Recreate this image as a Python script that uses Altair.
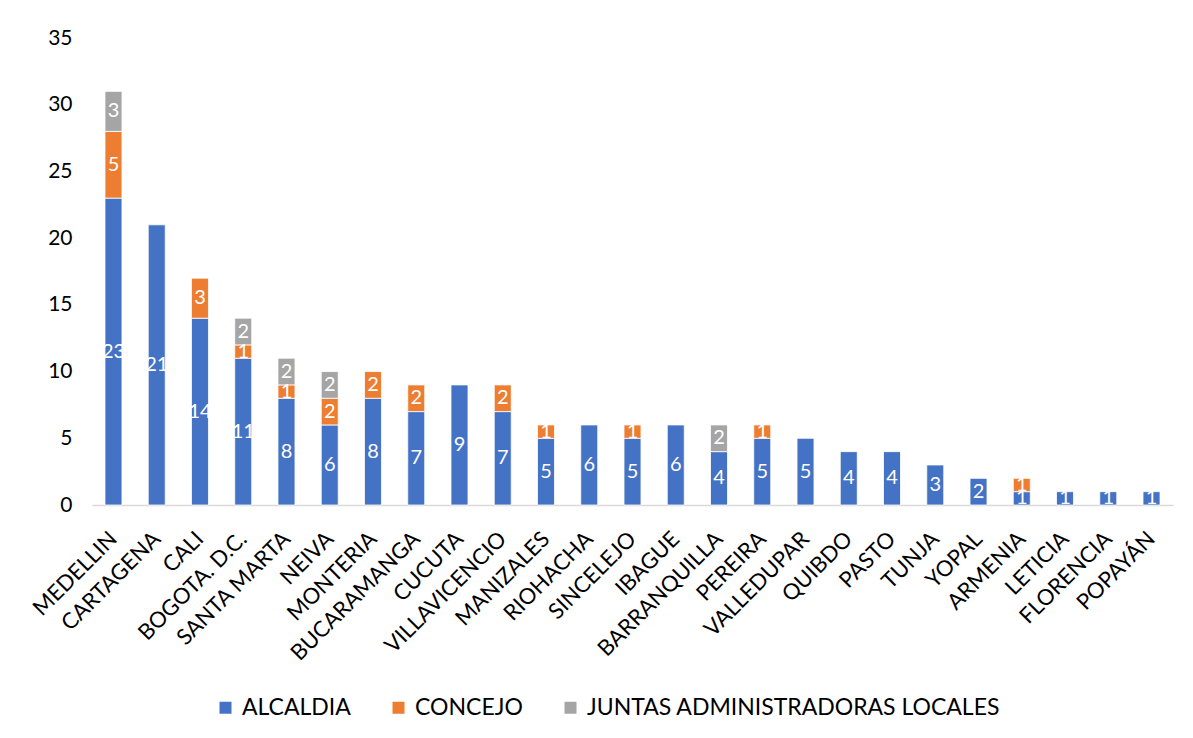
import altair as alt
import pandas as pd

cities = ["MEDELLIN", "CARTAGENA", "CALI", "BOGOTA. D.C.", "SANTA MARTA", "NEIVA",
          "MONTERIA", "BUCARAMANGA", "CUCUTA", "VILLAVICENCIO", "MANIZALES", "RIOHACHA",
          "SINCELEJO", "IBAGUE", "BARRANQUILLA", "PEREIRA", "VALLEDUPAR", "QUIBDO",
          "PASTO", "TUNJA", "YOPAL", "ARMENIA", "LETICIA", "FLORENCIA", "POPAYÁN"]
alcaldia = [23, 21, 14, 11, 8, 6, 8, 7, 9, 7, 5, 6, 5, 6, 4, 5, 5, 4, 4, 3, 2, 1, 1, 1, 1]
concejo = [5, 0, 3, 1, 1, 2, 2, 2, 0, 2, 1, 0, 1, 0, 0, 1, 0, 0, 0, 0, 0, 1, 0, 0, 0]
juntas = [3, 0, 0, 2, 2, 2, 0, 0, 0, 0, 0, 0, 0, 0, 2, 0, 0, 0, 0, 0, 0, 0, 0, 0, 0]
series = ["ALCALDIA", "CONCEJO", "JUNTAS ADMINISTRADORAS LOCALES"]
colors = ["#4472C4", "#ED7D31", "#A5A5A5"]
y_ticks = [0, 5, 10, 15, 20, 25, 30, 35]

rows = []
for k, vals in enumerate([alcaldia, concejo, juntas]):
    for c, v in zip(cities, vals):
        if v > 0:
            rows.append({"city": c, "serie": series[k], "order": k, "value": v})
df = pd.DataFrame(rows)

FONT = "Lato"

base = alt.Chart(df).transform_stack(
    stack="value", groupby=["city"], as_=["y0", "y1"],
    sort=[alt.SortField("order", order="ascending")]
).transform_calculate(mid="(datum.y0 + datum.y1) / 2")

x_enc = alt.X("city:N", sort=cities, title=None,
              scale=alt.Scale(paddingInner=0.607, paddingOuter=0.3),
              axis=alt.Axis(labelAngle=-45, labelAlign="right", labelBaseline="middle",
                            labelPadding=30, ticks=False, domainColor="#D9D9D9",
                            domainWidth=1.5, labelFontSize=22, labelColor="#000000",
                            labelFont=FONT, labelLimit=0))
y_scale = alt.Scale(domain=[0, 35], nice=False)

bars = base.mark_bar(stroke="#FFFFFF", strokeWidth=0.8).encode(
    x=x_enc,
    y=alt.Y("y0:Q", scale=y_scale, title=None,
            axis=alt.Axis(values=y_ticks, grid=False, domain=False, ticks=False,
                          labelPadding=20, labelFontSize=21, labelColor="#000000",
                          labelFont=FONT)),
    y2="y1:Q",
    color=alt.Color("serie:N", sort=series,
                    scale=alt.Scale(domain=series, range=colors),
                    legend=alt.Legend(title=None, orient="none", legendX=122, legendY=658,
                                      direction="horizontal", symbolType="square",
                                      symbolSize=144, symbolStrokeWidth=0,
                                      labelFontSize=23, labelFont=FONT,
                                      labelColor="#000000", labelOffset=5,
                                      columnPadding=36, labelLimit=0, padding=0)),
    order=alt.Order("order:Q"),
)

labels = base.mark_text(color="#FFFFFF", fontSize=20, font=FONT, baseline="middle",
                        align="center").encode(
    x=alt.X("city:N", sort=cities),
    y=alt.Y("mid:Q", scale=y_scale),
    text=alt.Text("value:Q"),
)

chart = alt.layer(bars, labels).properties(
    width=1081, height=467,
    background="#FFFFFF",
    autosize=alt.AutoSizeParams(type="none"),
    padding={"left": 84, "top": 30, "right": 12, "bottom": 225},
).configure_view(strokeWidth=0, strokeOpacity=0)

chart.save("out.html", embed_options={"renderer": "svg", "actions": False})
